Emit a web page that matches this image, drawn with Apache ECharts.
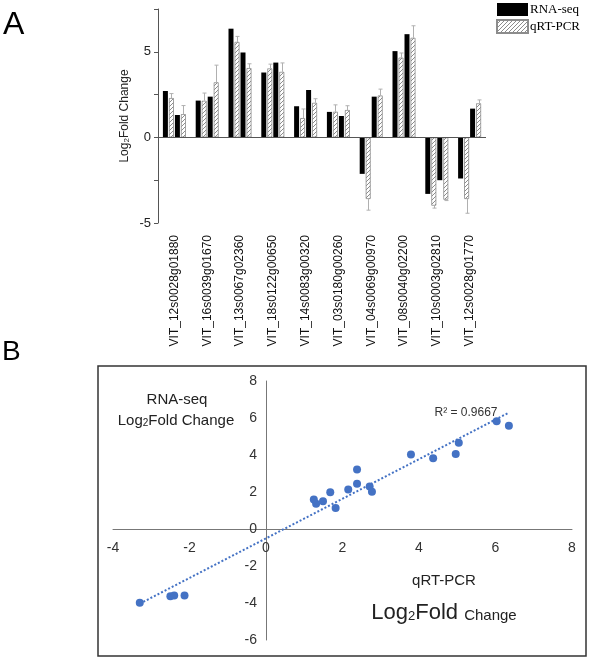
<!DOCTYPE html>
<html><head><meta charset="utf-8">
<script src="https://cdn.jsdelivr.net/npm/echarts@6/dist/echarts.min.js"></script>
<style>html,body{margin:0;padding:0;background:#fff}#c{width:590px;height:661px}</style>
</head><body><div id="c"></div>
<script>
// Gene labels (one label per pair of genes, as in the original figure)
const geneLabels = ['VIT_12s0028g01880','VIT_16s0039g01670','VIT_13s0067g02360','VIT_18s0122g00650','VIT_14s0083g00320',
  'VIT_03s0180g00260','VIT_04s0069g00970','VIT_08s0040g02200','VIT_10s0003g02810','VIT_12s0028g01770'];
// 20 genes, in bar order
const rnaSeq = [2.71,1.31, 2.15,2.38, 6.35,4.96, 3.79,4.37, 1.82,2.77, 1.49,1.25, -2.13,2.38, 5.04,6.03, -3.3,-2.5, -2.4,1.68];
const qrtPcr = [2.30,1.36, 2.14,3.22, 5.58,4.05, 4.03,3.83, 1.13,2.02, 1.50,1.60, -3.60,2.45, 4.66,5.82, -3.99,-3.64, -3.60,1.99];
const qrtErr = [0.26,0.50, 0.45,1.00, 0.32,0.25, 0.25,0.52, 0.53,0.24, 0.40,0.25, 0.65,0.37, 0.27,0.70, 0.14,0.05, 0.83,0.20];
const barYTickLabels = [-5, 0, 5];
const r2Text = 'R\u00b2 = 0.9667';

const FONT = 'Liberation Sans, Arial, sans-serif';
const pick = (arr, k) => arr.filter((_, i) => i % 2 === k);

function hatch() {
  const c = document.createElement('canvas'); c.width = 4; c.height = 4;
  const g = c.getContext('2d');
  g.fillStyle = '#fff'; g.fillRect(0, 0, 4, 4);
  g.strokeStyle = '#8c8c8c'; g.lineWidth = 1;
  g.beginPath();
  g.moveTo(0, 4); g.lineTo(4, 0);
  g.moveTo(-1, 1); g.lineTo(1, -1);
  g.moveTo(3, 5); g.lineTo(5, 3);
  g.stroke();
  return c;
}
const hatchFill = { image: hatch(), repeat: 'repeat' };

// regression trendline from data
const n = rnaSeq.length;
const mx = rnaSeq.reduce((a, b) => a + b, 0) / n;
const my = qrtPcr.reduce((a, b) => a + b, 0) / n;
let sxy = 0, sxx = 0;
for (let i = 0; i < n; i++) { sxy += (rnaSeq[i] - mx) * (qrtPcr[i] - my); sxx += (rnaSeq[i] - mx) ** 2; }
const slope = sxy / sxx, icpt = my - slope * mx;
const xmin = Math.min(...rnaSeq), xmax = Math.max(...rnaSeq);
const trend = [[xmin, slope * xmin + icpt], [xmax, slope * xmax + icpt]];

const BW = 5;
const barBase = { type: 'bar', xAxisIndex: 0, yAxisIndex: 0, barWidth: BW, barGap: '20%' };
const blackStyle = { color: '#000' };
const hatchStyle = { color: hatchFill, borderColor: '#8c8c8c', borderWidth: 0.8 };

const errData = [];
for (let i = 0; i < geneLabels.length; i++) {
  errData.push([i, qrtPcr[2 * i], qrtErr[2 * i], -3]);
  errData.push([i, qrtPcr[2 * i + 1], qrtErr[2 * i + 1], 9]);
}

// scatter grid geometry
const SG = { left: 113, top: 381, width: 459, height: 259 };
const SX = { min: -4, max: 8 }, SY = { min: -6, max: 8 };
const yAxisOffset = -SG.width * (0 - SX.min) / (SX.max - SX.min);
const xAxisOffset = -SG.height * (0 - SY.min) / (SY.max - SY.min);

const chart = echarts.init(document.getElementById('c'));
chart.setOption({
  animation: false,
  backgroundColor: '#fff',
  textStyle: { fontFamily: FONT },
  legend: {
    data: ['RNA-seq', 'qRT-PCR'], orient: 'vertical', left: 496, top: 3, padding: 0,
    itemWidth: 31, itemHeight: 13, itemGap: 3, icon: 'rect',
    textStyle: { fontFamily: 'Liberation Serif, Times New Roman, serif', fontSize: 13, color: '#000', padding: [0, 0, 0, -3] }
  },
  grid: [
    { left: 158, top: 9, width: 328, height: 214 },
    SG
  ],
  xAxis: [
    { gridIndex: 0, type: 'category', data: geneLabels, position: 'bottom',
      axisLine: { show: false, onZero: false }, axisTick: { show: false },
      axisLabel: { rotate: 90, interval: 0, fontSize: 12, margin: 12, color: '#111', fontFamily: FONT } },
    { gridIndex: 1, type: 'value', min: SX.min, max: SX.max, interval: 2, position: 'bottom', offset: xAxisOffset,
      axisLine: { onZero: false, lineStyle: { color: '#777', width: 1 } }, axisTick: { show: false }, splitLine: { show: false },
      axisLabel: { fontSize: 14, color: '#333', margin: 12, fontFamily: FONT } }
  ],
  yAxis: [
    { gridIndex: 0, type: 'value', min: -5, max: 7.5, interval: 2.5,
      axisLine: { show: true, lineStyle: { color: '#555' } },
      axisTick: { show: true, length: 4, lineStyle: { color: '#555' } }, splitLine: { show: false },
      axisLabel: { formatter: v => barYTickLabels.includes(v) ? String(v) : '', fontSize: 13, color: '#222', margin: 7, fontFamily: FONT },
      name: '{a|Log}{s|2}{a|Fold Change}', nameLocation: 'middle', nameGap: 27, nameRotate: 90, nameMoveOverlap: false,
      nameTextStyle: { rich: { a: { fontSize: 12, color: '#222', fontFamily: FONT }, s: { fontSize: 8, color: '#222', fontFamily: FONT, padding: [5, 0, 0, 0] } } } },
    { gridIndex: 1, type: 'value', min: SY.min, max: SY.max, interval: 2, position: 'left', offset: yAxisOffset,
      axisLine: { onZero: false, lineStyle: { color: '#777', width: 1 } }, axisTick: { show: false }, splitLine: { show: false },
      axisLabel: { fontSize: 14, color: '#333', margin: 9, fontFamily: FONT } }
  ],
  series: [
    Object.assign({}, barBase, { name: 'RNA-seq', data: pick(rnaSeq, 0), itemStyle: blackStyle,
      markLine: { silent: true, symbol: 'none', label: { show: false }, lineStyle: { color: '#555', type: 'solid', width: 1 }, data: [{ yAxis: 0 }] } }),
    Object.assign({}, barBase, { name: 'qRT-PCR', data: pick(qrtPcr, 0), itemStyle: hatchStyle }),
    Object.assign({}, barBase, { name: 'RNA-seq', data: pick(rnaSeq, 1), itemStyle: blackStyle }),
    Object.assign({}, barBase, { name: 'qRT-PCR', data: pick(qrtPcr, 1), itemStyle: hatchStyle }),
    { type: 'custom', name: 'err', xAxisIndex: 0, yAxisIndex: 0, z: 5, data: errData,
      encode: { x: 0, y: 1 },
      renderItem: (params, api) => {
        const cat = api.value(0), v = api.value(1), e = api.value(2), off = api.value(3);
        const p0 = api.coord([cat, v]);
        const p1 = api.coord([cat, v + Math.sign(v) * e]);
        const x = Math.round(p0[0] + off) + 0.5;
        return { type: 'group', children: [
          { type: 'line', shape: { x1: x, y1: p0[1], x2: x, y2: p1[1] }, style: { stroke: '#b0b0b0', lineWidth: 1 } },
          { type: 'line', shape: { x1: x - 2, y1: p1[1], x2: x + 2, y2: p1[1] }, style: { stroke: '#b0b0b0', lineWidth: 1 } }
        ] };
      } },
    { type: 'line', name: 'trend', xAxisIndex: 1, yAxisIndex: 1, data: trend, symbol: 'none',
      lineStyle: { type: 'dotted', width: 2, color: '#4472C4' }, z: 2 },
    { type: 'scatter', name: 'pts', xAxisIndex: 1, yAxisIndex: 1, symbolSize: 8, z: 3,
      data: rnaSeq.map((x, i) => [x, qrtPcr[i]]), itemStyle: { color: '#4472C4', opacity: 1 } }
  ],
  graphic: [
    { type: 'text', left: 3, top: 9, style: { text: 'A', font: '32px ' + FONT, fill: '#000' } },
    { type: 'text', left: 2, top: 338, style: { text: 'B', font: '28px ' + FONT, fill: '#000' } },
    { type: 'rect', shape: { x: 98, y: 366, width: 488, height: 290 }, style: { fill: 'none', stroke: '#333', lineWidth: 1.5 } },
    { type: 'text', x: 177, y: 400, style: { text: 'RNA-seq', font: '15px ' + FONT, fill: '#222', align: 'center', verticalAlign: 'middle' } },
    { type: 'text', x: 176, y: 421, style: { text: '{a|Log}{s|2}{a|Fold Change}', align: 'center', verticalAlign: 'middle',
      rich: { a: { fontSize: 15, fontFamily: FONT, fill: '#222' }, s: { fontSize: 10, fontFamily: FONT, fill: '#222', padding: [5, 0, 0, 0] } } } },
    { type: 'text', x: 444, y: 581, style: { text: 'qRT-PCR', font: '15px ' + FONT, fill: '#222', align: 'center', verticalAlign: 'middle' } },
    { type: 'text', x: 444, y: 613, style: { text: '{a|Log}{s|2}{a|Fold }{c|Change}', align: 'center', verticalAlign: 'middle',
      rich: { a: { fontSize: 22, fontFamily: FONT, fill: '#222' }, s: { fontSize: 13, fontFamily: FONT, fill: '#222', padding: [7, 0, 0, 0] },
              c: { fontSize: 15, fontFamily: FONT, fill: '#222', padding: [5, 0, 0, 0] } } } },
    { type: 'text', x: 466, y: 413, style: { text: r2Text, font: '12px ' + FONT, fill: '#333', align: 'center', verticalAlign: 'middle' } }
  ]
});
</script></body></html>
